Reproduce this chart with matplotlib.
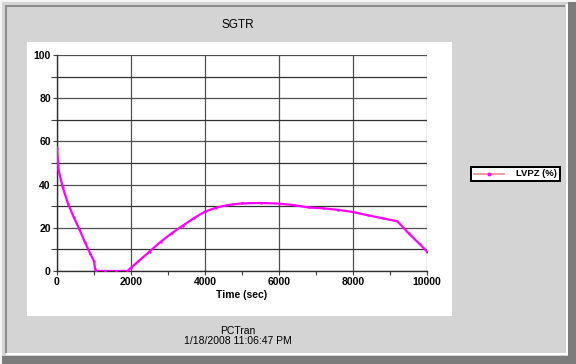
import numpy as np
import matplotlib
matplotlib.use("Agg")
import matplotlib.pyplot as plt
from matplotlib.patches import Rectangle

# LVPZ (%)
time_sec = [0, 40, 150, 300, 450, 600, 750, 900, 1000, 1030, 1060, 1300, 1600, 1900,
            2000, 2200, 2500, 2800, 3100, 3400, 3700, 4000, 4300, 4600, 5000,
            5500, 6000, 6400, 6800, 7200, 7600, 8000, 8400, 8800, 9200, 9500,
            9800, 10000]
lvpz = [57, 47, 39, 31, 25, 19.5, 13.5, 8, 4.5, 1, 0, 0, 0, 0,
        1.5, 4.5, 9, 13.5, 17.5, 21, 24.5, 27.5, 29.3, 30.5, 31.3,
        31.5, 31.2, 30.5, 29.4, 29, 28.3, 27.3, 25.8, 24.4, 23, 17.5,
        12.5, 9]

W, H = 576, 364
BG = "#d4d4d4"
FONT = "Liberation Sans"

fig = plt.figure(figsize=(W / 100, H / 100), dpi=100, facecolor=BG)

def px_rect(x0, y0, x1, y1, color, z=-1):
    # rectangle given in pixel coords (y from top)
    fig.patches.append(Rectangle((x0 / W, 1 - y1 / H), (x1 - x0) / W, (y1 - y0) / H,
                                 transform=fig.transFigure, facecolor=color,
                                 edgecolor="none", zorder=z))

# window bevel
px_rect(0, 0, W, 2, "#f4f4f4")
px_rect(0, 0, 2, H, "#f4f4f4")
px_rect(5, 5, 565, 7, "#8c8c8c")
px_rect(5, 5, 7, 353, "#8c8c8c")
px_rect(566, 4, 568, 355, "#ffffff")
px_rect(6, 353, 568, 355, "#ffffff")
px_rect(568, 2, W, H, "#7c7c7c")
px_rect(2, 356, W, H, "#7c7c7c")
# white chart panel
px_rect(27, 42, 452, 316, "#ffffff")

ax = fig.add_axes([57 / W, 1 - 271 / H, 370 / W, 216 / H])
ax.set_zorder(5)
ax.set_facecolor("white")
ax.plot(time_sec, lvpz, color="#ff00ff", lw=1.6, marker=".", ms=1.5,
        label="LVPZ (%)", zorder=3)

ax.set_xlim(0, 10000)
ax.set_ylim(0, 100)
ax.set_xticks(np.arange(0, 10001, 2000))
ax.set_xticks(np.arange(1000, 10000, 2000), minor=True)
ax.set_yticks(np.arange(0, 101, 20))
ax.set_yticks(np.arange(10, 100, 20), minor=True)
ax.grid(True, which="major", axis="both", color="#505050", lw=0.9)
ax.grid(True, which="minor", axis="y", color="#303030", lw=0.9)
ax.tick_params(which="both", direction="out", length=3, width=0.8, color="#404040",
               labelsize=7.5, pad=1.5)
ax.tick_params(axis="y", which="minor", length=4)
for lbl in ax.get_xticklabels() + ax.get_yticklabels():
    lbl.set_fontfamily(FONT)
    lbl.set_fontweight("bold")
for s in ["top", "right"]:
    ax.spines[s].set_visible(False)
for s in ["left", "bottom"]:
    ax.spines[s].set_color("#303030")
    ax.spines[s].set_linewidth(1.0)
ax.set_xlabel("Time (sec)", fontfamily=FONT, fontweight="bold", fontsize=7.5, labelpad=2)

fig.text(238 / W, 1 - 25 / H, "SGTR", ha="center", va="center", fontfamily=FONT, fontsize=8.5)
fig.text(238 / W, 1 - 331 / H, "PCTran", ha="center", va="center", fontfamily=FONT, fontsize=7.5)
fig.text(238 / W, 1 - 341 / H, "1/18/2008 11:06:47 PM", ha="center", va="center",
         fontfamily=FONT, fontsize=7.5)

# legend box
px_rect(470, 166, 561, 182, "#000000")
px_rect(472, 168, 559, 180, "#ffffff")
lax = fig.add_axes([472 / W, 1 - 180 / H, 87 / W, 12 / H])
lax.set_zorder(6)
lax.set_axis_off()
lax.set_xlim(0, 87)
lax.set_ylim(0, 12)
lax.plot([2, 32], [6, 6], color="#f08a8a", lw=1.2)
lax.plot([17], [6], "o", color="#ff00ff", ms=1.8)
lax.text(44, 6, "LVPZ (%)", va="center", ha="left", fontfamily=FONT,
         fontweight="bold", fontsize=6.8)

fig.savefig("out.png", dpi=100, facecolor=BG)
